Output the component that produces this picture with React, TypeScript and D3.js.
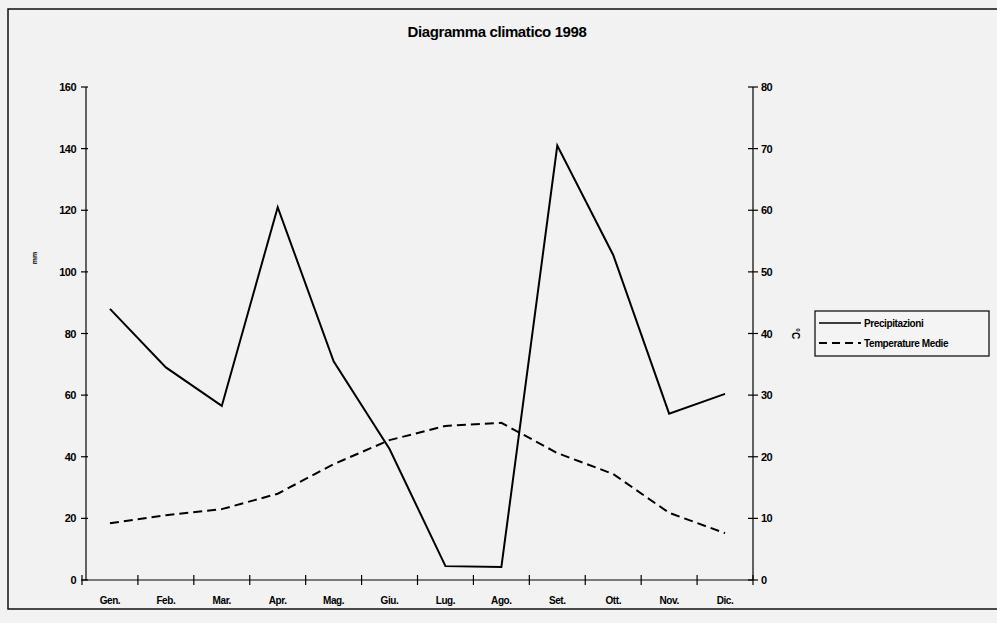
import { useEffect } from 'react';
import * as d3 from 'd3';

const months = ['Gen.', 'Feb.', 'Mar.', 'Apr.', 'Mag.', 'Giu.', 'Lug.', 'Ago.', 'Set.', 'Ott.', 'Nov.', 'Dic.'];
const precipitazioni = [88, 69, 56.5, 121, 71, 42.5, 4.5, 4.2, 141, 105.5, 54, 60.4];
const temperature = [9.2, 10.5, 11.5, 14, 18.8, 22.7, 25, 25.5, 20.6, 17.2, 10.9, 7.6];
const leftTicks = [0, 20, 40, 60, 80, 100, 120, 140, 160];
const rightTicks = [0, 10, 20, 30, 40, 50, 60, 70, 80];

const W = 997;
const H = 623;
const FONT = '"Liberation Sans", Arial, sans-serif';

export default function App() {
  useEffect(() => {
    document.body.style.margin = '0';
  }, []);

  const left = 86;
  const right = 753;
  const top = 87;
  const bottom = 580;

  const x = d3.scaleBand<string>().domain(months).range([left - 4, right]);
  const yL = d3.scaleLinear().domain([0, 160]).range([bottom, top]);
  const yR = d3.scaleLinear().domain([0, 80]).range([bottom, top]);
  const cx = (m: string) => (x(m) ?? 0) + x.bandwidth() / 2;

  const precLine = d3.line<number>().x((_, i) => cx(months[i])).y(d => yL(d))(precipitazioni) ?? '';
  const tempLine = d3.line<number>().x((_, i) => cx(months[i])).y(d => yR(d))(temperature) ?? '';

  const xTicks = [...months.map(m => x(m) ?? 0), right];

  return (
    <svg width={W} height={H} style={{ display: 'block', background: '#f2f2f2' }} fontFamily={FONT}>
      <rect x={8} y={9} width={W + 4} height={600} fill="none" stroke="#111" strokeWidth={1.5} />
      <text x={497} y={37} textAnchor="middle" fontSize={15} fontWeight="bold" letterSpacing={-0.4} fill="#000">
        Diagramma climatico 1998
      </text>

      {/* left axis */}
      <line x1={left} x2={left} y1={top} y2={bottom} stroke="#000" strokeWidth={1.2} />
      {leftTicks.map(t => (
        <g key={'l' + t}>
          <line x1={left - 5} x2={left + 2} y1={yL(t)} y2={yL(t)} stroke="#000" strokeWidth={1.2} />
          <text x={left - 10} y={yL(t) + 4} textAnchor="end" fontSize={11} fontWeight="bold" letterSpacing={-0.5}>{t}</text>
        </g>
      ))}
      <text transform={`translate(37,258) rotate(-90)`} textAnchor="middle" fontSize={7} fontWeight="bold">mm</text>

      {/* right axis */}
      <line x1={right} x2={right} y1={top} y2={bottom} stroke="#000" strokeWidth={1.2} />
      {rightTicks.map(t => (
        <g key={'r' + t}>
          <line x1={right - 5} x2={right + 5} y1={yR(t)} y2={yR(t)} stroke="#000" strokeWidth={1.2} />
          <text x={right + 8} y={yR(t) + 4} textAnchor="start" fontSize={11} fontWeight="bold" letterSpacing={-0.5}>{t}</text>
        </g>
      ))}
      <text transform={`translate(792,${yR(40)}) rotate(90)`} textAnchor="middle" fontSize={10} fontWeight="bold">°C</text>

      {/* x axis */}
      <line x1={left - 4} x2={right} y1={bottom} y2={bottom} stroke="#000" strokeWidth={1.2} />
      {xTicks.map((t, i) => (
        <line key={'x' + i} x1={t} x2={t} y1={bottom - 5} y2={bottom + 5} stroke="#000" strokeWidth={1.2} />
      ))}
      {months.map(m => (
        <text key={m} x={cx(m)} y={bottom + 24} textAnchor="middle" fontSize={10} fontWeight="bold" letterSpacing={-0.4}>{m}</text>
      ))}

      {/* series */}
      <path d={precLine} fill="none" stroke="#000" strokeWidth={2} />
      <path d={tempLine} fill="none" stroke="#000" strokeWidth={2} strokeDasharray="9,5" />

      {/* legend */}
      <rect x={815} y={311} width={174} height={45} fill="#f4f4f4" stroke="#000" strokeWidth={1.2} />
      <line x1={819} x2={861} y1={323} y2={323} stroke="#000" strokeWidth={1.5} />
      <text x={864} y={327} fontSize={10} fontWeight="bold" letterSpacing={-0.4}>Precipitazioni</text>
      <line x1={819} x2={861} y1={343} y2={343} stroke="#000" strokeWidth={1.8} strokeDasharray="8,5" />
      <text x={864} y={347} fontSize={10} fontWeight="bold" letterSpacing={-0.4}>Temperature Medie</text>
    </svg>
  );
}
